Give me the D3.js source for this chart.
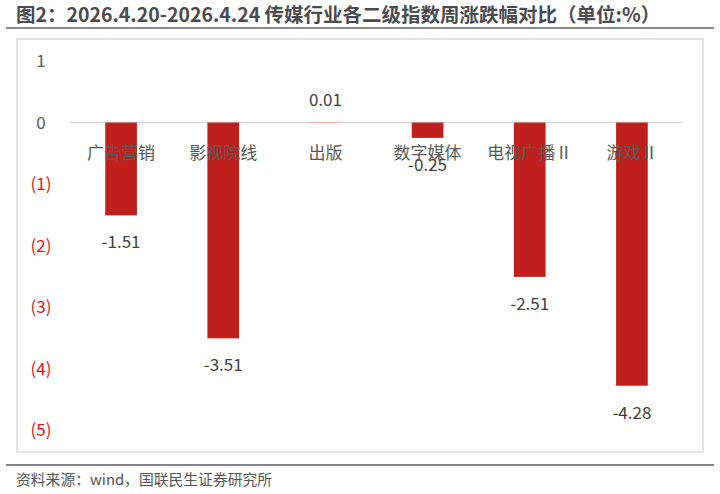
<!DOCTYPE html>
<html><head><meta charset="utf-8">
<script src="https://cdn.jsdelivr.net/npm/d3@7"></script>
<style>body{margin:0;background:#fff}text{font-family:"Noto Sans CJK SC","Noto Sans",sans-serif}</style>
</head><body><svg id="svg1" width="720" height="494"></svg>
<script>
var categories = ["广告营销", "影视院线", "出版", "数字媒体", "电视广播Ⅱ", "游戏Ⅱ"];
var values = [-1.51, -3.51, 0.01, -0.25, -2.51, -4.28];
var ticks = [1, 0, -1, -2, -3, -4, -5];
var tickLabels = ["1", "0", "(1)", "(2)", "(3)", "(4)", "(5)"];

var svg = d3.select('svg');
svg.append('text').attr('x', 16).attr('y', 22).attr('font-size', 19.5).attr('font-weight', 'bold')
   .attr('fill', '#4a4a4f').text('图2：2026.4.20-2026.4.24 传媒行业各二级指数周涨跌幅对比（单位:%）');
svg.append('line').attr('x1', 6).attr('x2', 714).attr('y1', 28).attr('y2', 28).attr('stroke', '#5a5e63').attr('stroke-width', 1.5);
svg.append('rect').attr('x', 17).attr('y', 39).attr('width', 686).attr('height', 413)
   .attr('fill', 'none').attr('stroke', '#dcdcdc').attr('stroke-width', 1.5);
svg.append('line').attr('x1', 6).attr('x2', 714).attr('y1', 465).attr('y2', 465).attr('stroke', '#5a5e63').attr('stroke-width', 1.5);
svg.append('text').attr('x', 16).attr('y', 485).attr('font-size', 14.8).attr('fill', '#555')
   .text('资料来源：wind，国联民生证券研究所');

var y = d3.scaleLinear().domain([-5, 1]).range([430, 61]);
var x = d3.scaleBand().domain(categories).range([70, 683]).paddingInner(0.69).paddingOuter(0.345);

svg.selectAll('.tick').data(ticks).enter().append('text')
   .attr('x', 41).attr('y', function(d) { return y(d) + 6; }).attr('text-anchor', 'middle')
   .attr('font-size', 17).attr('fill', function(d) { return d < 0 ? '#e8141a' : '#595959'; })
   .text(function(d, i) { return tickLabels[i]; });

svg.append('line').attr('x1', 70).attr('x2', 683).attr('y1', y(0)).attr('y2', y(0)).attr('stroke', '#d9d9d9').attr('stroke-width', 1.5);

svg.selectAll('.bar').data(values).enter().append('rect')
   .attr('x', function(d, i) { return x(categories[i]); })
   .attr('width', x.bandwidth())
   .attr('y', function(d) { return y(Math.max(0, d)); })
   .attr('height', function(d) { return Math.max(1, Math.abs(y(d) - y(0))); })
   .attr('fill', function(d) { return d > 0 ? '#f2b8b5' : '#c0201c'; });

svg.selectAll('.cat').data(categories).enter().append('text')
   .attr('x', function(d) { return x(d) + x.bandwidth() / 2; }).attr('y', 159)
   .attr('text-anchor', 'middle').attr('font-size', 17).attr('fill', '#595959').text(function(d) { return d; });

svg.selectAll('.val').data(values).enter().append('text')
   .attr('x', function(d, i) { return x(categories[i]) + x.bandwidth() / 2; })
   .attr('y', function(d) { return d >= 0 ? y(d) - 16 : y(d) + 33; })
   .attr('text-anchor', 'middle').attr('font-size', 17).attr('fill', '#404040')
   .text(function(d) { return d.toFixed(2); });
</script></body></html>
